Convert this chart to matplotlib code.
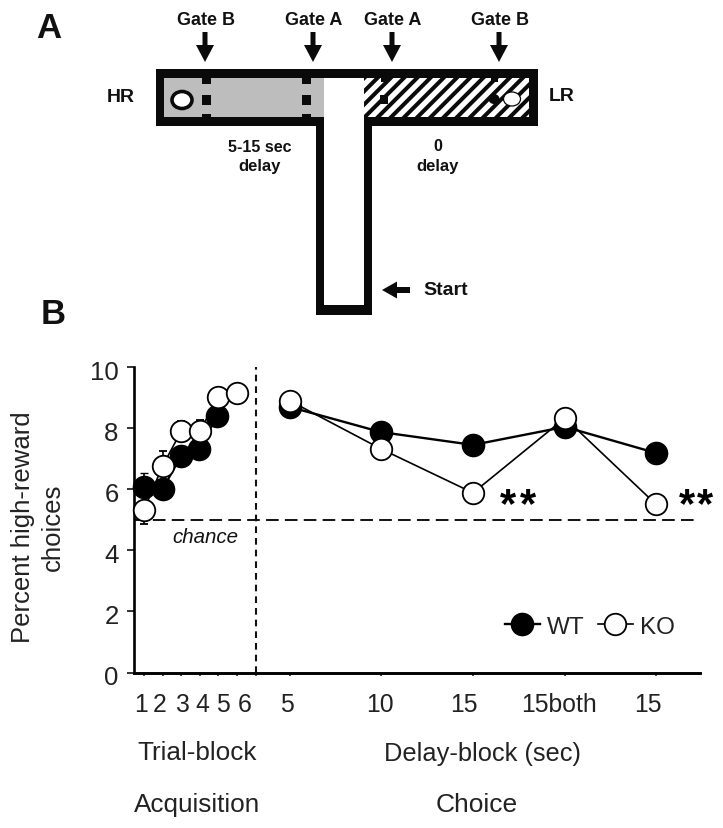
import numpy as np
import matplotlib
matplotlib.use("Agg")
import matplotlib.pyplot as plt
from matplotlib.patches import Rectangle, Ellipse, Polygon
from matplotlib.transforms import ScaledTranslation

plt.rcParams['font.family'] = ['Liberation Sans', 'DejaVu Sans']

# ---- data ----
acq_x = [1, 2, 3, 4, 5, 6]
acq_wt_x = [1, 2, 3, 3.95, 4.95]
acq_wt = [6.07, 6.0, 7.09, 7.32, 8.4]
acq_wt_err = [0.45, 0.25, 0.3, 0.3, 0.2]
acq_ko = [5.32, 6.76, 7.9, 7.9, 9.02, 9.15]
acq_ko_err = [0.45, 0.48, 0.33, 0.35, 0.15, 0.1]

choice_x = [8.85, 13.74, 18.69, 23.63, 28.5]
choice_wt = [8.69, 7.87, 7.45, 8.04, 7.19]
choice_ko = [8.89, 7.32, 5.88, 8.33, 5.52]

tick_pos = [1, 2, 3, 4, 5, 6, 7, 8.85, 13.74, 18.69, 23.63, 28.5]
tick_labels = ['1', '2', '3', '4', '5', '6', '5', '10', '15', '15both', '15']
tick_label_pos = [0.84, 1.86, 3.04, 4.11, 5.24, 6.43, 8.69, 13.69, 18.2, 23.3, 28.1]
y_ticks = [0, 2, 4, 6, 8, 10]

chance_level = 5
divider_x = 7
star_x = [20.57, 21.65, 30.2, 31.16]

W, H = 723, 829
fig = plt.figure(figsize=(W / 100, H / 100), dpi=100, facecolor='white')

# ---- panel B axes ----
L, R, T, B = 134, 700, 368, 673.5
ax = fig.add_axes([L / W, 1 - B / H, (R - L) / W, (B - T) / H])
ax.set_xlim((L - 144) / 18.6 + 1, (R - 144) / 18.6 + 1)
ax.set_ylim(0, 10)
ax.spines['top'].set_visible(False)
ax.spines['right'].set_visible(False)
ax.spines['left'].set_linewidth(1.9)
ax.spines['bottom'].set_linewidth(2.1)
ax.set_yticks(y_ticks)
ax.tick_params(axis='y', length=5, width=1.2, labelsize=18.5, pad=6, color='#111111', labelcolor='#222222')
ax.set_xticks(tick_pos)
ax.set_xticklabels([])
ax.tick_params(axis='x', length=2.5, width=1.1, color='#111111')
shift = ScaledTranslation(0, -2.2 / 100, fig.dpi_scale_trans)
for lab in ax.get_yticklabels():
    lab.set_transform(lab.get_transform() + shift)
tr = ax.get_xaxis_transform()
for p, s in zip(tick_label_pos, tick_labels):
    ax.text(p, -0.103, s, transform=tr, ha='center', va='center', fontsize=17.8,
            color='#222222', clip_on=False)

ax.axhline(chance_level, color='#111111', lw=1.4, dashes=(6.5, 3.2), xmax=0.99, zorder=1)
ax.axvline(divider_x, color='#111111', lw=1.5, dashes=(3.2, 2.4), ymax=1.0, zorder=1)
ax.text(4.3, 4.44, 'chance', style='italic', fontsize=14.8, ha='center', va='center', color='#111111')

wt_style = dict(color='black', marker='o', ms=16, mfc='black', mec='black', mew=1.0)
ko_style = dict(color='black', marker='o', ms=15.5, mfc='white', mec='black', mew=1.3)

ax.errorbar(acq_wt_x, acq_wt, yerr=acq_wt_err, lw=1.5, elinewidth=1.2, capsize=3, capthick=1.2,
            zorder=3, clip_on=False, **wt_style)
ax.errorbar(acq_x, acq_ko, yerr=acq_ko_err, lw=1.2, elinewidth=1.2, capsize=3, capthick=1.2,
            zorder=4, clip_on=False, **ko_style)
h_wt, = ax.plot(choice_x, choice_wt, lw=1.7, zorder=3, **wt_style)
h_ko, = ax.plot(choice_x, choice_ko, lw=1.2, zorder=4, **ko_style)

for sx in star_x:
    ax.text(sx, 5.12, '*', fontsize=30, ha='center', va='baseline', color='black',
            fontweight='bold', clip_on=False)

leg = ax.legend([h_wt, h_ko], ['WT', 'KO'], ncol=2, frameon=False, fontsize=17.5,
                loc='center left', bbox_to_anchor=(0.6335, 0.15), handlelength=1.44,
                handletextpad=0.3, columnspacing=0.55, borderpad=0, labelspacing=0,
                labelcolor='#222222')

# ---- overlay in pixel coordinates ----
ov = fig.add_axes([0, 0, 1, 1], facecolor='none')
ov.set_xlim(0, W)
ov.set_ylim(H, 0)
ov.axis('off')

ov.text(49, 28, 'A', fontsize=25, fontweight='bold', ha='center', va='center', color='#111111')
ov.text(53, 314, 'B', fontsize=25, fontweight='bold', ha='center', va='center', color='#111111')

ov.text(23, 527, 'Percent high-reward', rotation=90, fontsize=18.5, ha='center', va='center', color='#222222')
ov.text(53, 527, 'choices', rotation=90, fontsize=18.5, ha='center', va='center', color='#222222')

for x, y, s, fs in [(197, 753, 'Trial-block', 18.8), (482, 754, 'Delay-block (sec)', 18.3),
                    (197, 805, 'Acquisition', 18.8), (477, 805, 'Choice', 19)]:
    ov.text(x, y, s, fontsize=fs, ha='center', va='center', color='#222222')

# T maze
black = '#0a0a0a'
ov.add_patch(Rectangle((156, 70), 382, 57, fc=black, ec='none', zorder=1))
ov.add_patch(Rectangle((316, 100), 56, 216, fc=black, ec='none', zorder=1))
ov.add_patch(Rectangle((324, 79), 40, 227, fc='white', ec='none', zorder=2))
ov.add_patch(Rectangle((164, 79), 160, 39, fc='#bdbdbd', ec='none', zorder=2))
hatch_bg = Rectangle((364, 79), 165, 39, fc='white', ec='none', zorder=2)
ov.add_patch(hatch_bg)
for x0 in np.arange(300, 540, 13.2):
    ln, = ov.plot([x0, x0 + 60], [130, 70], color=black, lw=2.9, zorder=3, solid_capstyle='butt')
    ln.set_clip_path(hatch_bg)

# gates
for gx in [206, 306]:
    for y0, h in [(79, 6), (96, 9.5), (115, 3)]:
        ov.add_patch(Rectangle((gx - 4.5, y0), 9, h, fc=black, ec='none', zorder=4))
ov.add_patch(Rectangle((379.5, 96), 8, 8.5, fc=black, ec='none', zorder=4))
ov.add_patch(Rectangle((381, 79), 8, 4, fc=black, ec='none', zorder=4))
ov.add_patch(Ellipse((494, 100), 11, 10, fc=black, ec='none', zorder=4))
ov.add_patch(Rectangle((491, 79), 7, 4, fc=black, ec='none', zorder=4))

# food wells
ov.add_patch(Ellipse((182, 101), 20, 17, fc='white', ec=black, lw=2.6, zorder=5))
ov.add_patch(Ellipse((512, 100), 17, 14, fc='white', ec=black, lw=0.9, zorder=5))

# arrows
def down_arrow(x):
    ov.add_patch(Polygon([(x - 2.5, 33), (x + 2.5, 33), (x + 2.5, 46), (x + 9, 46), (x, 63),
                          (x - 9, 46), (x - 2.5, 46)], closed=True, fc=black, ec='none'))

for gate_x, label in [(205, 'Gate B'), (313, 'Gate A'), (392, 'Gate A'), (499, 'Gate B')]:
    down_arrow(gate_x)
    ov.text(gate_x + 1, 20, label, fontsize=13, fontweight='bold', ha='center', va='center', color='#111111')
ov.add_patch(Polygon([(382, 291), (397, 282.5), (397, 288), (410, 288), (410, 294), (397, 294), (397, 299.5)],
                     closed=True, fc=black, ec='none'))

for x, y, s, fs, ha in [(121, 97, 'HR', 14, 'center'), (562, 96, 'LR', 14, 'center'),
                        (260, 147, '5-15 sec', 11.5, 'center'), (260, 166, 'delay', 12, 'center'),
                        (438, 146, '0', 11.5, 'center'), (438, 166, 'delay', 12, 'center'),
                        (423, 290, 'Start', 14, 'left')]:
    ov.text(x, y, s, fontsize=fs, fontweight='bold', ha=ha, va='center', color='#111111')

fig.savefig('out.png', dpi=100, facecolor='white')
